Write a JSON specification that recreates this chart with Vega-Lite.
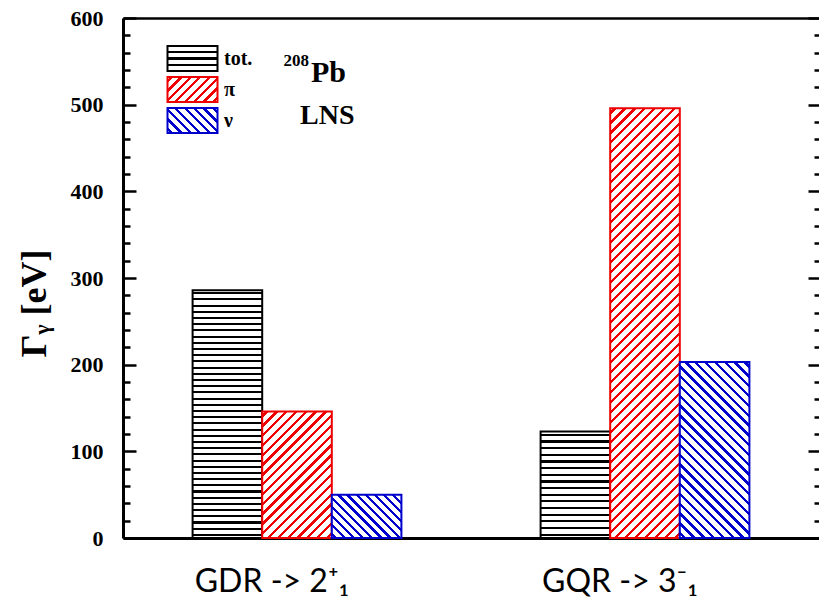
{
"$schema": "https://vega.github.io/schema/vega-lite/v6.json",
"width": 696,
"height": 520,
"autosize": {"type": "none"},
"padding": {"left": 123, "top": 18, "right": 0, "bottom": 67},
"background": "white",
"config": {"view": {"stroke": null}},
"resolve": {"axis": {"x": "independent", "y": "independent"}, "scale": {"stroke": "independent"}, "legend": {"stroke": "independent"}},
"data": {"values": [
{"g": "GDR", "s": "tot.", "v": 286},
{"g": "GDR", "s": "π", "v": 146},
{"g": "GDR", "s": "ν", "v": 50},
{"g": "GQR", "s": "tot.", "v": 123},
{"g": "GQR", "s": "π", "v": 496},
{"g": "GQR", "s": "ν", "v": 203}
]},
"layer": [
{
"transform": [{"filter": "datum.s==='tot.'"}],
"mark": {"type": "bar", "strokeWidth": 2},
"encoding": {
"x": {"field": "g", "type": "nominal", "scale": {"domain": ["GDR", "GQR"], "paddingInner": 0.4, "paddingOuter": 0.2},
 "axis": {"orient": "bottom", "title": null, "ticks": false, "domainColor": "black", "domainWidth": 3, "labelExpr": "datum.value==='GDR'?'GDR -> 2⁺₁':'GQR -> 3⁻₁'", "labelAngle": 0, "labelFont": "Lato, Noto Sans", "labelFontSize": 32, "labelColor": "black", "labelPadding": 28, "labelOffset": -25}},
"xOffset": {"field": "s", "type": "nominal", "scale": {"domain": ["tot.", "π", "ν"], "paddingInner": 0, "paddingOuter": 0}},
"y": {"field": "v", "type": "quantitative", "scale": {"domain": [0, 600], "nice": false},
 "axis": {"orient": "left", "title": "Γᵧ [eV]", "grid": false, "values": [0,20,40,60,80,100,120,140,160,180,200,220,240,260,280,300,320,340,360,380,400,420,440,460,480,500,520,540,560,580,600],
 "domainColor": "black", "domainWidth": 3, "tickColor": "black", "tickWidth": 2.5,
 "tickSize": {"condition": {"test": "datum.value % 100 === 0", "value": -13}, "value": -7},
 "labelExpr": "datum.value % 100 === 0 ? datum.label : ''",
 "labelFont": "Liberation Serif", "labelFontWeight": "bold", "labelFontSize": 22, "labelColor": "black", "labelPadding": 33,
 "titleFont": "Liberation Serif", "titleFontWeight": "bold", "titleFontSize": 36, "titleColor": "black", "titleX": -70, "titleY": 285}},
"stroke": {"field": "s", "type": "nominal", "scale": {"domain": ["tot."], "range": ["#000"]},
 "legend": {"orient": "none", "legendX": 56, "legendY": 27, "title": null, "symbolType": "M-2,-1H2V1H-2Z", "symbolSize": 625, "symbolStrokeWidth": 2, "labelFont": "Liberation Serif", "labelFontWeight": "bold", "labelFontSize": 20, "labelColor": "black", "labelOffset": 18, "padding": 0}},
"fill": {"condition": [
{"test": "datum.g==='GDR'", "value": {"gradient": "linear", "x1": 0, "y1": 0, "x2": 0, "y2": 1, "stops": [
{"offset":0.0083,"color":"#fff"},{"offset":0.0083,"color":"#000"},{"offset":0.0168,"color":"#000"},{"offset":0.0168,"color":"#fff"},
{"offset":0.0333,"color":"#fff"},{"offset":0.0333,"color":"#000"},{"offset":0.0418,"color":"#000"},{"offset":0.0418,"color":"#fff"},
{"offset":0.0583,"color":"#fff"},{"offset":0.0583,"color":"#000"},{"offset":0.0668,"color":"#000"},{"offset":0.0668,"color":"#fff"},
{"offset":0.0833,"color":"#fff"},{"offset":0.0833,"color":"#000"},{"offset":0.0918,"color":"#000"},{"offset":0.0918,"color":"#fff"},
{"offset":0.1083,"color":"#fff"},{"offset":0.1083,"color":"#000"},{"offset":0.1168,"color":"#000"},{"offset":0.1168,"color":"#fff"},
{"offset":0.1333,"color":"#fff"},{"offset":0.1333,"color":"#000"},{"offset":0.1418,"color":"#000"},{"offset":0.1418,"color":"#fff"},
{"offset":0.1583,"color":"#fff"},{"offset":0.1583,"color":"#000"},{"offset":0.1668,"color":"#000"},{"offset":0.1668,"color":"#fff"},
{"offset":0.1833,"color":"#fff"},{"offset":0.1833,"color":"#000"},{"offset":0.1918,"color":"#000"},{"offset":0.1918,"color":"#fff"},
{"offset":0.2083,"color":"#fff"},{"offset":0.2083,"color":"#000"},{"offset":0.2168,"color":"#000"},{"offset":0.2168,"color":"#fff"},
{"offset":0.2333,"color":"#fff"},{"offset":0.2333,"color":"#000"},{"offset":0.2418,"color":"#000"},{"offset":0.2418,"color":"#fff"},
{"offset":0.2583,"color":"#fff"},{"offset":0.2583,"color":"#000"},{"offset":0.2668,"color":"#000"},{"offset":0.2668,"color":"#fff"},
{"offset":0.2833,"color":"#fff"},{"offset":0.2833,"color":"#000"},{"offset":0.2918,"color":"#000"},{"offset":0.2918,"color":"#fff"},
{"offset":0.3083,"color":"#fff"},{"offset":0.3083,"color":"#000"},{"offset":0.3168,"color":"#000"},{"offset":0.3168,"color":"#fff"},
{"offset":0.3333,"color":"#fff"},{"offset":0.3333,"color":"#000"},{"offset":0.3418,"color":"#000"},{"offset":0.3418,"color":"#fff"},
{"offset":0.3583,"color":"#fff"},{"offset":0.3583,"color":"#000"},{"offset":0.3668,"color":"#000"},{"offset":0.3668,"color":"#fff"},
{"offset":0.3833,"color":"#fff"},{"offset":0.3833,"color":"#000"},{"offset":0.3918,"color":"#000"},{"offset":0.3918,"color":"#fff"},
{"offset":0.4083,"color":"#fff"},{"offset":0.4083,"color":"#000"},{"offset":0.4168,"color":"#000"},{"offset":0.4168,"color":"#fff"},
{"offset":0.4333,"color":"#fff"},{"offset":0.4333,"color":"#000"},{"offset":0.4418,"color":"#000"},{"offset":0.4418,"color":"#fff"},
{"offset":0.4583,"color":"#fff"},{"offset":0.4583,"color":"#000"},{"offset":0.4668,"color":"#000"},{"offset":0.4668,"color":"#fff"},
{"offset":0.4833,"color":"#fff"},{"offset":0.4833,"color":"#000"},{"offset":0.4918,"color":"#000"},{"offset":0.4918,"color":"#fff"},
{"offset":0.5083,"color":"#fff"},{"offset":0.5083,"color":"#000"},{"offset":0.5168,"color":"#000"},{"offset":0.5168,"color":"#fff"},
{"offset":0.5333,"color":"#fff"},{"offset":0.5333,"color":"#000"},{"offset":0.5418,"color":"#000"},{"offset":0.5418,"color":"#fff"},
{"offset":0.5583,"color":"#fff"},{"offset":0.5583,"color":"#000"},{"offset":0.5668,"color":"#000"},{"offset":0.5668,"color":"#fff"},
{"offset":0.5833,"color":"#fff"},{"offset":0.5833,"color":"#000"},{"offset":0.5918,"color":"#000"},{"offset":0.5918,"color":"#fff"},
{"offset":0.6083,"color":"#fff"},{"offset":0.6083,"color":"#000"},{"offset":0.6168,"color":"#000"},{"offset":0.6168,"color":"#fff"},
{"offset":0.6333,"color":"#fff"},{"offset":0.6333,"color":"#000"},{"offset":0.6418,"color":"#000"},{"offset":0.6418,"color":"#fff"},
{"offset":0.6583,"color":"#fff"},{"offset":0.6583,"color":"#000"},{"offset":0.6668,"color":"#000"},{"offset":0.6668,"color":"#fff"},
{"offset":0.6833,"color":"#fff"},{"offset":0.6833,"color":"#000"},{"offset":0.6918,"color":"#000"},{"offset":0.6918,"color":"#fff"},
{"offset":0.7083,"color":"#fff"},{"offset":0.7083,"color":"#000"},{"offset":0.7168,"color":"#000"},{"offset":0.7168,"color":"#fff"},
{"offset":0.7333,"color":"#fff"},{"offset":0.7333,"color":"#000"},{"offset":0.7418,"color":"#000"},{"offset":0.7418,"color":"#fff"},
{"offset":0.7583,"color":"#fff"},{"offset":0.7583,"color":"#000"},{"offset":0.7668,"color":"#000"},{"offset":0.7668,"color":"#fff"},
{"offset":0.7833,"color":"#fff"},{"offset":0.7833,"color":"#000"},{"offset":0.7918,"color":"#000"},{"offset":0.7918,"color":"#fff"},
{"offset":0.8083,"color":"#fff"},{"offset":0.8083,"color":"#000"},{"offset":0.8168,"color":"#000"},{"offset":0.8168,"color":"#fff"},
{"offset":0.8333,"color":"#fff"},{"offset":0.8333,"color":"#000"},{"offset":0.8418,"color":"#000"},{"offset":0.8418,"color":"#fff"},
{"offset":0.8583,"color":"#fff"},{"offset":0.8583,"color":"#000"},{"offset":0.8668,"color":"#000"},{"offset":0.8668,"color":"#fff"},
{"offset":0.8833,"color":"#fff"},{"offset":0.8833,"color":"#000"},{"offset":0.8918,"color":"#000"},{"offset":0.8918,"color":"#fff"},
{"offset":0.9083,"color":"#fff"},{"offset":0.9083,"color":"#000"},{"offset":0.9168,"color":"#000"},{"offset":0.9168,"color":"#fff"},
{"offset":0.9333,"color":"#fff"},{"offset":0.9333,"color":"#000"},{"offset":0.9418,"color":"#000"},{"offset":0.9418,"color":"#fff"},
{"offset":0.9583,"color":"#fff"},{"offset":0.9583,"color":"#000"},{"offset":0.9668,"color":"#000"},{"offset":0.9668,"color":"#fff"},
{"offset":0.9833,"color":"#fff"},{"offset":0.9833,"color":"#000"},{"offset":0.9918,"color":"#000"},{"offset":0.9918,"color":"#fff"}]}},
{"test": "datum.g==='GQR'", "value": {"gradient": "linear", "x1": 0, "y1": 0, "x2": 0, "y2": 1, "stops": [
{"offset":0.0206,"color":"#fff"},{"offset":0.0206,"color":"#000"},{"offset":0.0419,"color":"#000"},{"offset":0.0419,"color":"#fff"},
{"offset":0.0831,"color":"#fff"},{"offset":0.0831,"color":"#000"},{"offset":0.1044,"color":"#000"},{"offset":0.1044,"color":"#fff"},
{"offset":0.1456,"color":"#fff"},{"offset":0.1456,"color":"#000"},{"offset":0.1669,"color":"#000"},{"offset":0.1669,"color":"#fff"},
{"offset":0.2081,"color":"#fff"},{"offset":0.2081,"color":"#000"},{"offset":0.2294,"color":"#000"},{"offset":0.2294,"color":"#fff"},
{"offset":0.2706,"color":"#fff"},{"offset":0.2706,"color":"#000"},{"offset":0.2919,"color":"#000"},{"offset":0.2919,"color":"#fff"},
{"offset":0.3331,"color":"#fff"},{"offset":0.3331,"color":"#000"},{"offset":0.3544,"color":"#000"},{"offset":0.3544,"color":"#fff"},
{"offset":0.3956,"color":"#fff"},{"offset":0.3956,"color":"#000"},{"offset":0.4169,"color":"#000"},{"offset":0.4169,"color":"#fff"},
{"offset":0.4581,"color":"#fff"},{"offset":0.4581,"color":"#000"},{"offset":0.4794,"color":"#000"},{"offset":0.4794,"color":"#fff"},
{"offset":0.5206,"color":"#fff"},{"offset":0.5206,"color":"#000"},{"offset":0.5419,"color":"#000"},{"offset":0.5419,"color":"#fff"},
{"offset":0.5831,"color":"#fff"},{"offset":0.5831,"color":"#000"},{"offset":0.6044,"color":"#000"},{"offset":0.6044,"color":"#fff"},
{"offset":0.6456,"color":"#fff"},{"offset":0.6456,"color":"#000"},{"offset":0.6669,"color":"#000"},{"offset":0.6669,"color":"#fff"},
{"offset":0.7081,"color":"#fff"},{"offset":0.7081,"color":"#000"},{"offset":0.7294,"color":"#000"},{"offset":0.7294,"color":"#fff"},
{"offset":0.7706,"color":"#fff"},{"offset":0.7706,"color":"#000"},{"offset":0.7919,"color":"#000"},{"offset":0.7919,"color":"#fff"},
{"offset":0.8331,"color":"#fff"},{"offset":0.8331,"color":"#000"},{"offset":0.8544,"color":"#000"},{"offset":0.8544,"color":"#fff"},
{"offset":0.8956,"color":"#fff"},{"offset":0.8956,"color":"#000"},{"offset":0.9169,"color":"#000"},{"offset":0.9169,"color":"#fff"},
{"offset":0.9581,"color":"#fff"},{"offset":0.9581,"color":"#000"},{"offset":0.9794,"color":"#000"},{"offset":0.9794,"color":"#fff"}]}}
],
"value": {"gradient": "linear", "x1": 0, "y1": 0, "x2": 0, "y2": 1, "stops": [
{"offset":0.206,"color":"#fff"},{"offset":0.206,"color":"#000"},{"offset":0.294,"color":"#000"},{"offset":0.294,"color":"#fff"},
{"offset":0.456,"color":"#fff"},{"offset":0.456,"color":"#000"},{"offset":0.544,"color":"#000"},{"offset":0.544,"color":"#fff"},
{"offset":0.706,"color":"#fff"},{"offset":0.706,"color":"#000"},{"offset":0.794,"color":"#000"},{"offset":0.794,"color":"#fff"}]}}
}
},
{
"transform": [{"filter": "datum.s==='π'"}],
"mark": {"type": "bar", "strokeWidth": 2},
"encoding": {
"x": {"field": "g", "type": "nominal", "scale": {"domain": ["GDR", "GQR"], "paddingInner": 0.4, "paddingOuter": 0.2}, "axis": null},
"xOffset": {"field": "s", "type": "nominal", "scale": {"domain": ["tot.", "π", "ν"], "paddingInner": 0, "paddingOuter": 0}},
"y": {"field": "v", "type": "quantitative", "scale": {"domain": [0, 600], "nice": false}, "axis": null},
"stroke": {"field": "s", "type": "nominal", "scale": {"domain": ["π"], "range": ["#e00"]},
 "legend": {"orient": "none", "legendX": 56, "legendY": 58, "title": null, "symbolType": "M-2,-1H2V1H-2Z", "symbolSize": 625, "symbolStrokeWidth": 2, "labelFont": "Liberation Serif", "labelFontWeight": "bold", "labelFontSize": 20, "labelColor": "black", "labelOffset": 18, "padding": 0}},
"fill": {"condition": [
{"test": "datum.g==='GDR'", "value": {"gradient": "linear", "x1": 0, "y1": 0, "x2": 0.6547, "y2": 1.19, "stops": [
{"offset":0.0165,"color":"#fff"},{"offset":0.0165,"color":"#e00"},{"offset":0.0335,"color":"#e00"},{"offset":0.0335,"color":"#fff"},
{"offset":0.0665,"color":"#fff"},{"offset":0.0665,"color":"#e00"},{"offset":0.0835,"color":"#e00"},{"offset":0.0835,"color":"#fff"},
{"offset":0.1165,"color":"#fff"},{"offset":0.1165,"color":"#e00"},{"offset":0.1335,"color":"#e00"},{"offset":0.1335,"color":"#fff"},
{"offset":0.1665,"color":"#fff"},{"offset":0.1665,"color":"#e00"},{"offset":0.1835,"color":"#e00"},{"offset":0.1835,"color":"#fff"},
{"offset":0.2165,"color":"#fff"},{"offset":0.2165,"color":"#e00"},{"offset":0.2335,"color":"#e00"},{"offset":0.2335,"color":"#fff"},
{"offset":0.2665,"color":"#fff"},{"offset":0.2665,"color":"#e00"},{"offset":0.2835,"color":"#e00"},{"offset":0.2835,"color":"#fff"},
{"offset":0.3165,"color":"#fff"},{"offset":0.3165,"color":"#e00"},{"offset":0.3335,"color":"#e00"},{"offset":0.3335,"color":"#fff"},
{"offset":0.3665,"color":"#fff"},{"offset":0.3665,"color":"#e00"},{"offset":0.3835,"color":"#e00"},{"offset":0.3835,"color":"#fff"},
{"offset":0.4165,"color":"#fff"},{"offset":0.4165,"color":"#e00"},{"offset":0.4335,"color":"#e00"},{"offset":0.4335,"color":"#fff"},
{"offset":0.4665,"color":"#fff"},{"offset":0.4665,"color":"#e00"},{"offset":0.4835,"color":"#e00"},{"offset":0.4835,"color":"#fff"},
{"offset":0.5165,"color":"#fff"},{"offset":0.5165,"color":"#e00"},{"offset":0.5335,"color":"#e00"},{"offset":0.5335,"color":"#fff"},
{"offset":0.5665,"color":"#fff"},{"offset":0.5665,"color":"#e00"},{"offset":0.5835,"color":"#e00"},{"offset":0.5835,"color":"#fff"},
{"offset":0.6165,"color":"#fff"},{"offset":0.6165,"color":"#e00"},{"offset":0.6335,"color":"#e00"},{"offset":0.6335,"color":"#fff"},
{"offset":0.6665,"color":"#fff"},{"offset":0.6665,"color":"#e00"},{"offset":0.6835,"color":"#e00"},{"offset":0.6835,"color":"#fff"},
{"offset":0.7165,"color":"#fff"},{"offset":0.7165,"color":"#e00"},{"offset":0.7335,"color":"#e00"},{"offset":0.7335,"color":"#fff"},
{"offset":0.7665,"color":"#fff"},{"offset":0.7665,"color":"#e00"},{"offset":0.7835,"color":"#e00"},{"offset":0.7835,"color":"#fff"},
{"offset":0.8165,"color":"#fff"},{"offset":0.8165,"color":"#e00"},{"offset":0.8335,"color":"#e00"},{"offset":0.8335,"color":"#fff"},
{"offset":0.8665,"color":"#fff"},{"offset":0.8665,"color":"#e00"},{"offset":0.8835,"color":"#e00"},{"offset":0.8835,"color":"#fff"},
{"offset":0.9165,"color":"#fff"},{"offset":0.9165,"color":"#e00"},{"offset":0.9335,"color":"#e00"},{"offset":0.9335,"color":"#fff"},
{"offset":0.9665,"color":"#fff"},{"offset":0.9665,"color":"#e00"},{"offset":0.9835,"color":"#e00"},{"offset":0.9835,"color":"#fff"}]}},
{"test": "datum.g==='GQR'", "value": {"gradient": "linear", "x1": 0, "y1": 0, "x2": 0.1833, "y2": 1.1322, "stops": [
{"offset":0.0066,"color":"#fff"},{"offset":0.0066,"color":"#e00"},{"offset":0.0134,"color":"#e00"},{"offset":0.0134,"color":"#fff"},
{"offset":0.0266,"color":"#fff"},{"offset":0.0266,"color":"#e00"},{"offset":0.0334,"color":"#e00"},{"offset":0.0334,"color":"#fff"},
{"offset":0.0466,"color":"#fff"},{"offset":0.0466,"color":"#e00"},{"offset":0.0534,"color":"#e00"},{"offset":0.0534,"color":"#fff"},
{"offset":0.0666,"color":"#fff"},{"offset":0.0666,"color":"#e00"},{"offset":0.0734,"color":"#e00"},{"offset":0.0734,"color":"#fff"},
{"offset":0.0866,"color":"#fff"},{"offset":0.0866,"color":"#e00"},{"offset":0.0934,"color":"#e00"},{"offset":0.0934,"color":"#fff"},
{"offset":0.1066,"color":"#fff"},{"offset":0.1066,"color":"#e00"},{"offset":0.1134,"color":"#e00"},{"offset":0.1134,"color":"#fff"},
{"offset":0.1266,"color":"#fff"},{"offset":0.1266,"color":"#e00"},{"offset":0.1334,"color":"#e00"},{"offset":0.1334,"color":"#fff"},
{"offset":0.1466,"color":"#fff"},{"offset":0.1466,"color":"#e00"},{"offset":0.1534,"color":"#e00"},{"offset":0.1534,"color":"#fff"},
{"offset":0.1666,"color":"#fff"},{"offset":0.1666,"color":"#e00"},{"offset":0.1734,"color":"#e00"},{"offset":0.1734,"color":"#fff"},
{"offset":0.1866,"color":"#fff"},{"offset":0.1866,"color":"#e00"},{"offset":0.1934,"color":"#e00"},{"offset":0.1934,"color":"#fff"},
{"offset":0.2066,"color":"#fff"},{"offset":0.2066,"color":"#e00"},{"offset":0.2134,"color":"#e00"},{"offset":0.2134,"color":"#fff"},
{"offset":0.2266,"color":"#fff"},{"offset":0.2266,"color":"#e00"},{"offset":0.2334,"color":"#e00"},{"offset":0.2334,"color":"#fff"},
{"offset":0.2466,"color":"#fff"},{"offset":0.2466,"color":"#e00"},{"offset":0.2534,"color":"#e00"},{"offset":0.2534,"color":"#fff"},
{"offset":0.2666,"color":"#fff"},{"offset":0.2666,"color":"#e00"},{"offset":0.2734,"color":"#e00"},{"offset":0.2734,"color":"#fff"},
{"offset":0.2866,"color":"#fff"},{"offset":0.2866,"color":"#e00"},{"offset":0.2934,"color":"#e00"},{"offset":0.2934,"color":"#fff"},
{"offset":0.3066,"color":"#fff"},{"offset":0.3066,"color":"#e00"},{"offset":0.3134,"color":"#e00"},{"offset":0.3134,"color":"#fff"},
{"offset":0.3266,"color":"#fff"},{"offset":0.3266,"color":"#e00"},{"offset":0.3334,"color":"#e00"},{"offset":0.3334,"color":"#fff"},
{"offset":0.3466,"color":"#fff"},{"offset":0.3466,"color":"#e00"},{"offset":0.3534,"color":"#e00"},{"offset":0.3534,"color":"#fff"},
{"offset":0.3666,"color":"#fff"},{"offset":0.3666,"color":"#e00"},{"offset":0.3734,"color":"#e00"},{"offset":0.3734,"color":"#fff"},
{"offset":0.3866,"color":"#fff"},{"offset":0.3866,"color":"#e00"},{"offset":0.3934,"color":"#e00"},{"offset":0.3934,"color":"#fff"},
{"offset":0.4066,"color":"#fff"},{"offset":0.4066,"color":"#e00"},{"offset":0.4134,"color":"#e00"},{"offset":0.4134,"color":"#fff"},
{"offset":0.4266,"color":"#fff"},{"offset":0.4266,"color":"#e00"},{"offset":0.4334,"color":"#e00"},{"offset":0.4334,"color":"#fff"},
{"offset":0.4466,"color":"#fff"},{"offset":0.4466,"color":"#e00"},{"offset":0.4534,"color":"#e00"},{"offset":0.4534,"color":"#fff"},
{"offset":0.4666,"color":"#fff"},{"offset":0.4666,"color":"#e00"},{"offset":0.4734,"color":"#e00"},{"offset":0.4734,"color":"#fff"},
{"offset":0.4866,"color":"#fff"},{"offset":0.4866,"color":"#e00"},{"offset":0.4934,"color":"#e00"},{"offset":0.4934,"color":"#fff"},
{"offset":0.5066,"color":"#fff"},{"offset":0.5066,"color":"#e00"},{"offset":0.5134,"color":"#e00"},{"offset":0.5134,"color":"#fff"},
{"offset":0.5266,"color":"#fff"},{"offset":0.5266,"color":"#e00"},{"offset":0.5334,"color":"#e00"},{"offset":0.5334,"color":"#fff"},
{"offset":0.5466,"color":"#fff"},{"offset":0.5466,"color":"#e00"},{"offset":0.5534,"color":"#e00"},{"offset":0.5534,"color":"#fff"},
{"offset":0.5666,"color":"#fff"},{"offset":0.5666,"color":"#e00"},{"offset":0.5734,"color":"#e00"},{"offset":0.5734,"color":"#fff"},
{"offset":0.5866,"color":"#fff"},{"offset":0.5866,"color":"#e00"},{"offset":0.5934,"color":"#e00"},{"offset":0.5934,"color":"#fff"},
{"offset":0.6066,"color":"#fff"},{"offset":0.6066,"color":"#e00"},{"offset":0.6134,"color":"#e00"},{"offset":0.6134,"color":"#fff"},
{"offset":0.6266,"color":"#fff"},{"offset":0.6266,"color":"#e00"},{"offset":0.6334,"color":"#e00"},{"offset":0.6334,"color":"#fff"},
{"offset":0.6466,"color":"#fff"},{"offset":0.6466,"color":"#e00"},{"offset":0.6534,"color":"#e00"},{"offset":0.6534,"color":"#fff"},
{"offset":0.6666,"color":"#fff"},{"offset":0.6666,"color":"#e00"},{"offset":0.6734,"color":"#e00"},{"offset":0.6734,"color":"#fff"},
{"offset":0.6866,"color":"#fff"},{"offset":0.6866,"color":"#e00"},{"offset":0.6934,"color":"#e00"},{"offset":0.6934,"color":"#fff"},
{"offset":0.7066,"color":"#fff"},{"offset":0.7066,"color":"#e00"},{"offset":0.7134,"color":"#e00"},{"offset":0.7134,"color":"#fff"},
{"offset":0.7266,"color":"#fff"},{"offset":0.7266,"color":"#e00"},{"offset":0.7334,"color":"#e00"},{"offset":0.7334,"color":"#fff"},
{"offset":0.7466,"color":"#fff"},{"offset":0.7466,"color":"#e00"},{"offset":0.7534,"color":"#e00"},{"offset":0.7534,"color":"#fff"},
{"offset":0.7666,"color":"#fff"},{"offset":0.7666,"color":"#e00"},{"offset":0.7734,"color":"#e00"},{"offset":0.7734,"color":"#fff"},
{"offset":0.7866,"color":"#fff"},{"offset":0.7866,"color":"#e00"},{"offset":0.7934,"color":"#e00"},{"offset":0.7934,"color":"#fff"},
{"offset":0.8066,"color":"#fff"},{"offset":0.8066,"color":"#e00"},{"offset":0.8134,"color":"#e00"},{"offset":0.8134,"color":"#fff"},
{"offset":0.8266,"color":"#fff"},{"offset":0.8266,"color":"#e00"},{"offset":0.8334,"color":"#e00"},{"offset":0.8334,"color":"#fff"},
{"offset":0.8466,"color":"#fff"},{"offset":0.8466,"color":"#e00"},{"offset":0.8534,"color":"#e00"},{"offset":0.8534,"color":"#fff"},
{"offset":0.8666,"color":"#fff"},{"offset":0.8666,"color":"#e00"},{"offset":0.8734,"color":"#e00"},{"offset":0.8734,"color":"#fff"},
{"offset":0.8866,"color":"#fff"},{"offset":0.8866,"color":"#e00"},{"offset":0.8934,"color":"#e00"},{"offset":0.8934,"color":"#fff"},
{"offset":0.9066,"color":"#fff"},{"offset":0.9066,"color":"#e00"},{"offset":0.9134,"color":"#e00"},{"offset":0.9134,"color":"#fff"},
{"offset":0.9266,"color":"#fff"},{"offset":0.9266,"color":"#e00"},{"offset":0.9334,"color":"#e00"},{"offset":0.9334,"color":"#fff"},
{"offset":0.9466,"color":"#fff"},{"offset":0.9466,"color":"#e00"},{"offset":0.9534,"color":"#e00"},{"offset":0.9534,"color":"#fff"},
{"offset":0.9666,"color":"#fff"},{"offset":0.9666,"color":"#e00"},{"offset":0.9734,"color":"#e00"},{"offset":0.9734,"color":"#fff"},
{"offset":0.9866,"color":"#fff"},{"offset":0.9866,"color":"#e00"},{"offset":0.9934,"color":"#e00"},{"offset":0.9934,"color":"#fff"}]}}
],
"value": {"gradient": "linear", "x1": 0, "y1": 0, "x2": 1.2, "y2": 0.6, "stops": [
{"offset":0.0413,"color":"#fff"},{"offset":0.0413,"color":"#e00"},{"offset":0.0838,"color":"#e00"},{"offset":0.0838,"color":"#fff"},
{"offset":0.1663,"color":"#fff"},{"offset":0.1663,"color":"#e00"},{"offset":0.2088,"color":"#e00"},{"offset":0.2088,"color":"#fff"},
{"offset":0.2913,"color":"#fff"},{"offset":0.2913,"color":"#e00"},{"offset":0.3338,"color":"#e00"},{"offset":0.3338,"color":"#fff"},
{"offset":0.4163,"color":"#fff"},{"offset":0.4163,"color":"#e00"},{"offset":0.4588,"color":"#e00"},{"offset":0.4588,"color":"#fff"},
{"offset":0.5413,"color":"#fff"},{"offset":0.5413,"color":"#e00"},{"offset":0.5838,"color":"#e00"},{"offset":0.5838,"color":"#fff"},
{"offset":0.6663,"color":"#fff"},{"offset":0.6663,"color":"#e00"},{"offset":0.7088,"color":"#e00"},{"offset":0.7088,"color":"#fff"},
{"offset":0.7913,"color":"#fff"},{"offset":0.7913,"color":"#e00"},{"offset":0.8338,"color":"#e00"},{"offset":0.8338,"color":"#fff"},
{"offset":0.9163,"color":"#fff"},{"offset":0.9163,"color":"#e00"},{"offset":0.9588,"color":"#e00"},{"offset":0.9588,"color":"#fff"}]}}
}
},
{
"transform": [{"filter": "datum.s==='ν'"}],
"mark": {"type": "bar", "strokeWidth": 2},
"encoding": {
"x": {"field": "g", "type": "nominal", "scale": {"domain": ["GDR", "GQR"], "paddingInner": 0.4, "paddingOuter": 0.2}, "axis": null},
"xOffset": {"field": "s", "type": "nominal", "scale": {"domain": ["tot.", "π", "ν"], "paddingInner": 0, "paddingOuter": 0}},
"y": {"field": "v", "type": "quantitative", "scale": {"domain": [0, 600], "nice": false}, "axis": null},
"stroke": {"field": "s", "type": "nominal", "scale": {"domain": ["ν"], "range": ["#00c"]},
 "legend": {"orient": "none", "legendX": 56, "legendY": 89, "title": null, "symbolType": "M-2,-1H2V1H-2Z", "symbolSize": 625, "symbolStrokeWidth": 2, "labelFont": "Liberation Serif", "labelFontWeight": "bold", "labelFontSize": 20, "labelColor": "black", "labelOffset": 18, "padding": 0}},
"fill": {"condition": [
{"test": "datum.g==='GDR'", "value": {"gradient": "linear", "x1": 0, "y1": 1, "x2": 1.1694, "y2": 0.272, "stops": [
{"offset":0.0264,"color":"#fff"},{"offset":0.0264,"color":"#00c"},{"offset":0.0536,"color":"#00c"},{"offset":0.0536,"color":"#fff"},
{"offset":0.1064,"color":"#fff"},{"offset":0.1064,"color":"#00c"},{"offset":0.1336,"color":"#00c"},{"offset":0.1336,"color":"#fff"},
{"offset":0.1864,"color":"#fff"},{"offset":0.1864,"color":"#00c"},{"offset":0.2136,"color":"#00c"},{"offset":0.2136,"color":"#fff"},
{"offset":0.2664,"color":"#fff"},{"offset":0.2664,"color":"#00c"},{"offset":0.2936,"color":"#00c"},{"offset":0.2936,"color":"#fff"},
{"offset":0.3464,"color":"#fff"},{"offset":0.3464,"color":"#00c"},{"offset":0.3736,"color":"#00c"},{"offset":0.3736,"color":"#fff"},
{"offset":0.4264,"color":"#fff"},{"offset":0.4264,"color":"#00c"},{"offset":0.4536,"color":"#00c"},{"offset":0.4536,"color":"#fff"},
{"offset":0.5064,"color":"#fff"},{"offset":0.5064,"color":"#00c"},{"offset":0.5336,"color":"#00c"},{"offset":0.5336,"color":"#fff"},
{"offset":0.5864,"color":"#fff"},{"offset":0.5864,"color":"#00c"},{"offset":0.6136,"color":"#00c"},{"offset":0.6136,"color":"#fff"},
{"offset":0.6664,"color":"#fff"},{"offset":0.6664,"color":"#00c"},{"offset":0.6936,"color":"#00c"},{"offset":0.6936,"color":"#fff"},
{"offset":0.7464,"color":"#fff"},{"offset":0.7464,"color":"#00c"},{"offset":0.7736,"color":"#00c"},{"offset":0.7736,"color":"#fff"},
{"offset":0.8264,"color":"#fff"},{"offset":0.8264,"color":"#00c"},{"offset":0.8536,"color":"#00c"},{"offset":0.8536,"color":"#fff"},
{"offset":0.9064,"color":"#fff"},{"offset":0.9064,"color":"#00c"},{"offset":0.9336,"color":"#00c"},{"offset":0.9336,"color":"#fff"}]}},
{"test": "datum.g==='GQR'", "value": {"gradient": "linear", "x1": 0, "y1": 1, "x2": 0.4774, "y2": -0.2067, "stops": [
{"offset":0.0132,"color":"#fff"},{"offset":0.0132,"color":"#00c"},{"offset":0.0268,"color":"#00c"},{"offset":0.0268,"color":"#fff"},
{"offset":0.0532,"color":"#fff"},{"offset":0.0532,"color":"#00c"},{"offset":0.0668,"color":"#00c"},{"offset":0.0668,"color":"#fff"},
{"offset":0.0932,"color":"#fff"},{"offset":0.0932,"color":"#00c"},{"offset":0.1068,"color":"#00c"},{"offset":0.1068,"color":"#fff"},
{"offset":0.1332,"color":"#fff"},{"offset":0.1332,"color":"#00c"},{"offset":0.1468,"color":"#00c"},{"offset":0.1468,"color":"#fff"},
{"offset":0.1732,"color":"#fff"},{"offset":0.1732,"color":"#00c"},{"offset":0.1868,"color":"#00c"},{"offset":0.1868,"color":"#fff"},
{"offset":0.2132,"color":"#fff"},{"offset":0.2132,"color":"#00c"},{"offset":0.2268,"color":"#00c"},{"offset":0.2268,"color":"#fff"},
{"offset":0.2532,"color":"#fff"},{"offset":0.2532,"color":"#00c"},{"offset":0.2668,"color":"#00c"},{"offset":0.2668,"color":"#fff"},
{"offset":0.2932,"color":"#fff"},{"offset":0.2932,"color":"#00c"},{"offset":0.3068,"color":"#00c"},{"offset":0.3068,"color":"#fff"},
{"offset":0.3332,"color":"#fff"},{"offset":0.3332,"color":"#00c"},{"offset":0.3468,"color":"#00c"},{"offset":0.3468,"color":"#fff"},
{"offset":0.3732,"color":"#fff"},{"offset":0.3732,"color":"#00c"},{"offset":0.3868,"color":"#00c"},{"offset":0.3868,"color":"#fff"},
{"offset":0.4132,"color":"#fff"},{"offset":0.4132,"color":"#00c"},{"offset":0.4268,"color":"#00c"},{"offset":0.4268,"color":"#fff"},
{"offset":0.4532,"color":"#fff"},{"offset":0.4532,"color":"#00c"},{"offset":0.4668,"color":"#00c"},{"offset":0.4668,"color":"#fff"},
{"offset":0.4932,"color":"#fff"},{"offset":0.4932,"color":"#00c"},{"offset":0.5068,"color":"#00c"},{"offset":0.5068,"color":"#fff"},
{"offset":0.5332,"color":"#fff"},{"offset":0.5332,"color":"#00c"},{"offset":0.5468,"color":"#00c"},{"offset":0.5468,"color":"#fff"},
{"offset":0.5732,"color":"#fff"},{"offset":0.5732,"color":"#00c"},{"offset":0.5868,"color":"#00c"},{"offset":0.5868,"color":"#fff"},
{"offset":0.6132,"color":"#fff"},{"offset":0.6132,"color":"#00c"},{"offset":0.6268,"color":"#00c"},{"offset":0.6268,"color":"#fff"},
{"offset":0.6532,"color":"#fff"},{"offset":0.6532,"color":"#00c"},{"offset":0.6668,"color":"#00c"},{"offset":0.6668,"color":"#fff"},
{"offset":0.6932,"color":"#fff"},{"offset":0.6932,"color":"#00c"},{"offset":0.7068,"color":"#00c"},{"offset":0.7068,"color":"#fff"},
{"offset":0.7332,"color":"#fff"},{"offset":0.7332,"color":"#00c"},{"offset":0.7468,"color":"#00c"},{"offset":0.7468,"color":"#fff"},
{"offset":0.7732,"color":"#fff"},{"offset":0.7732,"color":"#00c"},{"offset":0.7868,"color":"#00c"},{"offset":0.7868,"color":"#fff"},
{"offset":0.8132,"color":"#fff"},{"offset":0.8132,"color":"#00c"},{"offset":0.8268,"color":"#00c"},{"offset":0.8268,"color":"#fff"},
{"offset":0.8532,"color":"#fff"},{"offset":0.8532,"color":"#00c"},{"offset":0.8668,"color":"#00c"},{"offset":0.8668,"color":"#fff"},
{"offset":0.8932,"color":"#fff"},{"offset":0.8932,"color":"#00c"},{"offset":0.9068,"color":"#00c"},{"offset":0.9068,"color":"#fff"},
{"offset":0.9332,"color":"#fff"},{"offset":0.9332,"color":"#00c"},{"offset":0.9468,"color":"#00c"},{"offset":0.9468,"color":"#fff"},
{"offset":0.9732,"color":"#fff"},{"offset":0.9732,"color":"#00c"},{"offset":0.9868,"color":"#00c"},{"offset":0.9868,"color":"#fff"}]}}
],
"value": {"gradient": "linear", "x1": 0, "y1": 1, "x2": 1.2, "y2": 0.4, "stops": [
{"offset":0.0413,"color":"#fff"},{"offset":0.0413,"color":"#00c"},{"offset":0.0838,"color":"#00c"},{"offset":0.0838,"color":"#fff"},
{"offset":0.1663,"color":"#fff"},{"offset":0.1663,"color":"#00c"},{"offset":0.2088,"color":"#00c"},{"offset":0.2088,"color":"#fff"},
{"offset":0.2913,"color":"#fff"},{"offset":0.2913,"color":"#00c"},{"offset":0.3338,"color":"#00c"},{"offset":0.3338,"color":"#fff"},
{"offset":0.4163,"color":"#fff"},{"offset":0.4163,"color":"#00c"},{"offset":0.4588,"color":"#00c"},{"offset":0.4588,"color":"#fff"},
{"offset":0.5413,"color":"#fff"},{"offset":0.5413,"color":"#00c"},{"offset":0.5838,"color":"#00c"},{"offset":0.5838,"color":"#fff"},
{"offset":0.6663,"color":"#fff"},{"offset":0.6663,"color":"#00c"},{"offset":0.7088,"color":"#00c"},{"offset":0.7088,"color":"#fff"},
{"offset":0.7913,"color":"#fff"},{"offset":0.7913,"color":"#00c"},{"offset":0.8338,"color":"#00c"},{"offset":0.8338,"color":"#fff"},
{"offset":0.9163,"color":"#fff"},{"offset":0.9163,"color":"#00c"},{"offset":0.9588,"color":"#00c"},{"offset":0.9588,"color":"#fff"}]}}
}
},
{
"data": {"values": [{"t": "Pb", "y": 526}]},
"mark": {"type": "text", "font": "Liberation Serif", "fontWeight": "bold", "fontSize": 30, "align": "left", "baseline": "alphabetic", "dx": 14, "color": "black"},
"encoding": {
"x": {"datum": "GDR", "type": "nominal", "scale": {"domain": ["GDR", "GQR"], "paddingInner": 0.4, "paddingOuter": 0.2},
 "axis": {"orient": "top", "title": null, "labels": false, "ticks": false, "domainColor": "black", "domainWidth": 2.5}},
"y": {"field": "y", "type": "quantitative", "scale": {"domain": [0, 600], "nice": false},
 "axis": {"orient": "right", "title": null, "labels": false, "domain": false, "grid": false, "values": [0,20,40,60,80,100,120,140,160,180,200,220,240,260,280,300,320,340,360,380,400,420,440,460,480,500,520,540,560,580,600],
 "tickColor": "black", "tickWidth": 2.5, "tickSize": {"condition": {"test": "datum.value % 100 === 0", "value": -11}, "value": -5}}},
"text": {"field": "t"}
}
},
{
"data": {"values": [{"t": "208", "y": 544.6}]},
"mark": {"type": "text", "font": "Liberation Serif", "fontWeight": "bold", "fontSize": 17, "align": "right", "baseline": "alphabetic", "dx": 12, "color": "black"},
"encoding": {
"x": {"datum": "GDR", "type": "nominal", "axis": null},
"y": {"field": "y", "type": "quantitative", "scale": {"domain": [0, 600], "nice": false}, "axis": null},
"text": {"field": "t"}
}
},
{
"data": {"values": [{"t": "LNS", "y": 477.7}]},
"mark": {"type": "text", "font": "Liberation Serif", "fontWeight": "bold", "fontSize": 28, "align": "left", "baseline": "alphabetic", "dx": 3, "color": "black"},
"encoding": {
"x": {"datum": "GDR", "type": "nominal", "axis": null},
"y": {"field": "y", "type": "quantitative", "scale": {"domain": [0, 600], "nice": false}, "axis": null},
"text": {"field": "t"}
}
}
]
}
